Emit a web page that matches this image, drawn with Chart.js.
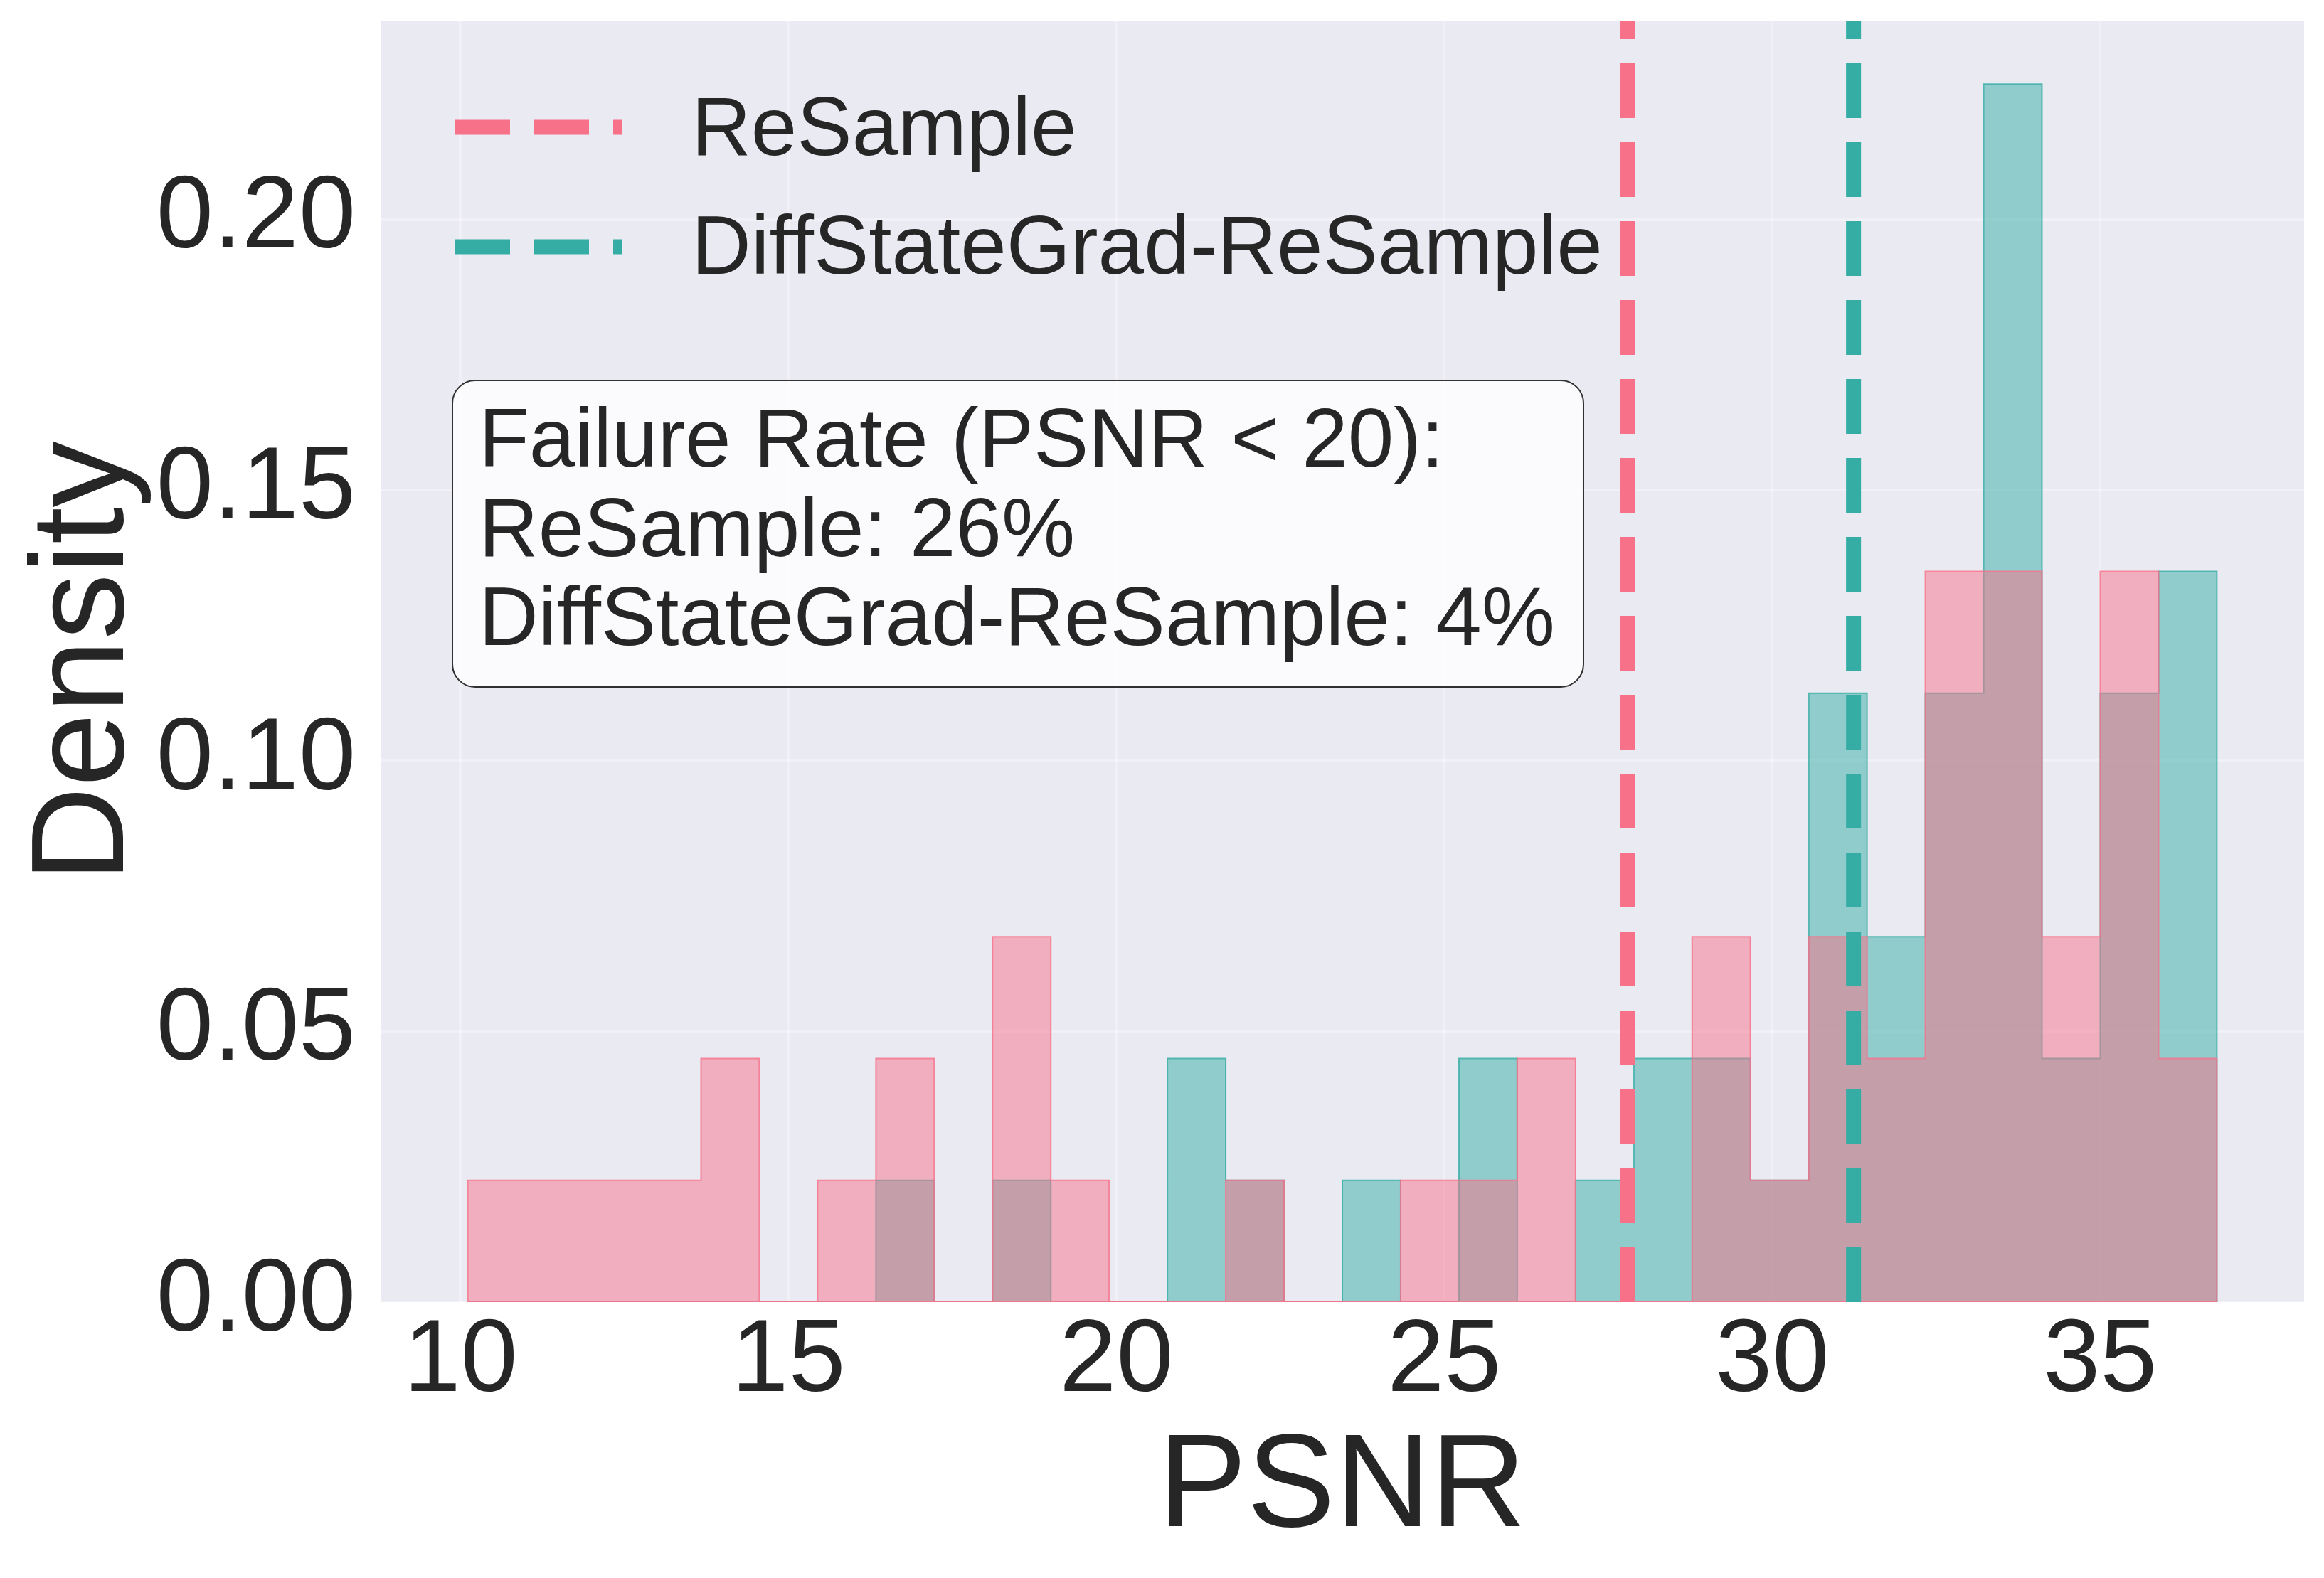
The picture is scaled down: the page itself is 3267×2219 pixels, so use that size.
<!DOCTYPE html>
<html>
<head>
<meta charset="utf-8">
<script src="https://cdn.jsdelivr.net/npm/chart.js@4/dist/chart.umd.min.js"></script>
<style>
    html, body { margin: 0; padding: 0; background: #ffffff; }
    canvas { display: block; }
</style>
</head>
<body>
<canvas id="chart" width="3267" height="2219" style="width: 3267px; height: 2219px;"></canvas>
<script>
// histogram bin edges (PSNR)
const binEdges = [10.110, 10.999, 11.888, 12.777, 13.666, 14.555, 15.444, 16.333, 17.222, 18.111,
    19.000, 19.889, 20.778, 21.667, 22.556, 23.445, 24.334, 25.223, 26.112, 27.001,
    27.890, 28.779, 29.668, 30.557, 31.446, 32.335, 33.224, 34.113, 35.002, 35.891, 36.780];

// density per bin
const resampleDensity = [0.0225, 0.0225, 0.0225, 0.0225, 0.045, 0, 0.0225, 0.045, 0, 0.0675,
    0.0225, 0, 0, 0.0225, 0, 0, 0.0225, 0.0225, 0.045, 0,
    0, 0.0675, 0.0225, 0.0675, 0.045, 0.135, 0.135, 0.0675, 0.135, 0.045];
const diffStateDensity = [0, 0, 0, 0, 0, 0, 0, 0.0225, 0, 0.0225,
    0, 0, 0.045, 0.0225, 0, 0.0225, 0, 0.045, 0, 0.0225,
    0.045, 0.045, 0.0225, 0.1125, 0.0675, 0.1125, 0.225, 0.045, 0.1125, 0.135];

// mean PSNR of each method (dashed lines)
const resampleMean = 27.79;
const diffStateMean = 31.24;

const seriesNames = ["ReSample", "DiffStateGrad-ReSample"];
const boxLines = ["Failure Rate (PSNR < 20):", "ReSample: 26%", "DiffStateGrad-ReSample: 4%"];
const xTicks = [10, 15, 20, 25, 30, 35];
const yTicks = [0, 0.05, 0.10, 0.15, 0.20];

const X_MIN = 8.78, X_MAX = 38.11, Y_MAX = 0.2366;

const PINK = "#f77189";
const TEAL = "#36ada4";
const TEXT = "#262626";
const FONT = "'Liberation Sans', Arial, sans-serif";

// step outline of a histogram: closed at both ends on the baseline
function stepPoints(values) {
    let last = binEdges.length - 1;
    let pts = [{ x: binEdges[0], y: 0 }];
    for (let i = 0; i < values.length; i++) {
        pts.push({ x: binEdges[i], y: values[i] });
    }
    pts.push({ x: binEdges[last], y: values[values.length - 1] });
    pts.push({ x: binEdges[last], y: 0 });
    return pts;
}

function vline(x) {
    return [{ x: x, y: 0 }, { x: x, y: Y_MAX }];
}

const backgroundPlugin = {
    id: "background",
    beforeDraw(chart) {
        const ctx = chart.ctx;
        const a = chart.chartArea;
        ctx.save();
        ctx.fillStyle = "#ffffff";
        ctx.fillRect(0, 0, chart.width, chart.height);
        ctx.fillStyle = "#eaeaf2";
        ctx.fillRect(a.left, a.top, a.right - a.left, a.bottom - a.top);
        ctx.restore();
    }
};

const overlayPlugin = {
    id: "overlay",
    afterDraw(chart) {
        const ctx = chart.ctx;
        ctx.save();

        // legend
        const legendColors = [PINK, TEAL];
        const legendLineY = [179, 347];
        const legendTextY = [186, 353];
        for (let i = 0; i < seriesNames.length; i++) {
            ctx.beginPath();
            ctx.setLineDash([77, 34]);
            ctx.lineWidth = 21;
            ctx.lineCap = "butt";
            ctx.strokeStyle = legendColors[i];
            ctx.moveTo(640, legendLineY[i]);
            ctx.lineTo(874, legendLineY[i]);
            ctx.stroke();

            ctx.setLineDash([]);
            ctx.fillStyle = TEXT;
            ctx.font = "116px " + FONT;
            ctx.textAlign = "left";
            ctx.textBaseline = "middle";
            ctx.fillText(seriesNames[i], 972, legendTextY[i]);
        }

        // failure-rate box
        ctx.setLineDash([]);
        ctx.beginPath();
        ctx.roundRect(636, 535, 1590, 431, 32);
        ctx.fillStyle = "rgba(255,255,255,0.8)";
        ctx.fill();
        ctx.lineWidth = 2;
        ctx.strokeStyle = "rgba(0,0,0,0.8)";
        ctx.stroke();

        ctx.fillStyle = TEXT;
        ctx.font = "116px " + FONT;
        ctx.textAlign = "left";
        ctx.textBaseline = "alphabetic";
        const baselines = [656, 782, 907];
        for (let i = 0; i < boxLines.length; i++) {
            ctx.fillText(boxLines[i], 673, baselines[i]);
        }
        ctx.restore();
    }
};

const ctx = document.getElementById("chart").getContext("2d");

new Chart(ctx, {
    type: "line",
    data: {
        datasets: [
            {
                label: seriesNames[0] + " mean",
                data: vline(resampleMean),
                borderColor: PINK,
                borderWidth: 21,
                borderDash: [77, 34],
                pointRadius: 0,
                fill: false,
                order: 0
            },
            {
                label: seriesNames[1] + " mean",
                data: vline(diffStateMean),
                borderColor: TEAL,
                borderWidth: 21,
                borderDash: [77, 34],
                pointRadius: 0,
                fill: false,
                order: 0
            },
            {
                label: "baseline",
                data: [{ x: binEdges[0], y: 0 }, { x: binEdges[binEdges.length - 1], y: 0 }],
                borderColor: "rgba(247,113,137,0.8)",
                borderWidth: 3,
                pointRadius: 0,
                fill: false,
                order: 1
            },
            {
                label: seriesNames[0],
                data: stepPoints(resampleDensity),
                stepped: "before",
                fill: "origin",
                backgroundColor: "rgba(247,113,137,0.5)",
                borderColor: "rgba(247,113,137,0.8)",
                borderWidth: 2,
                pointRadius: 0,
                order: 2
            },
            {
                label: seriesNames[1],
                data: stepPoints(diffStateDensity),
                stepped: "before",
                fill: "origin",
                backgroundColor: "rgba(54,173,164,0.5)",
                borderColor: "rgba(54,173,164,0.8)",
                borderWidth: 2,
                pointRadius: 0,
                order: 3
            }
        ]
    },
    options: {
        responsive: false,
        animation: false,
        devicePixelRatio: 1,
        layout: {
            padding: { top: 30, right: 28, left: 0, bottom: 0 }
        },
        plugins: {
            legend: { display: false },
            tooltip: { enabled: false }
        },
        scales: {
            x: {
                type: "linear",
                min: X_MIN,
                max: X_MAX,
                offset: false,
                border: { display: false },
                grid: {
                    color: "rgba(255,255,255,0.3)",
                    lineWidth: 4,
                    drawTicks: false
                },
                afterBuildTicks(scale) {
                    scale.ticks = xTicks.map(v => ({ value: v }));
                },
                afterFit(scale) {
                    scale.height = 388;
                    scale.paddingLeft = 0;
                    scale.paddingRight = 0;
                },
                ticks: {
                    color: TEXT,
                    padding: 13,
                    maxRotation: 0,
                    autoSkip: false,
                    font: { family: FONT, size: 144, lineHeight: 1 },
                    callback: v => String(v)
                },
                title: {
                    display: true,
                    text: "PSNR",
                    color: TEXT,
                    font: { family: FONT, size: 186, lineHeight: 1 },
                    padding: { top: 0, bottom: 31 }
                }
            },
            y: {
                min: 0,
                max: Y_MAX,
                border: { display: false },
                grid: {
                    color: "rgba(255,255,255,0.3)",
                    lineWidth: 4,
                    drawTicks: false
                },
                afterBuildTicks(scale) {
                    scale.ticks = yTicks.map(v => ({ value: v }));
                },
                afterFit(scale) {
                    scale.width = 535;
                    scale.paddingTop = 0;
                    scale.paddingBottom = 0;
                },
                ticks: {
                    color: TEXT,
                    padding: 35,
                    autoSkip: false,
                    font: { family: FONT, size: 144, lineHeight: 1 },
                    callback: v => v.toFixed(2)
                },
                title: {
                    display: true,
                    text: "Density",
                    color: TEXT,
                    font: { family: FONT, size: 186, lineHeight: 1 },
                    padding: { top: 29, bottom: 0 }
                }
            }
        }
    },
    plugins: [backgroundPlugin, overlayPlugin]
});
</script>
</body>
</html>
